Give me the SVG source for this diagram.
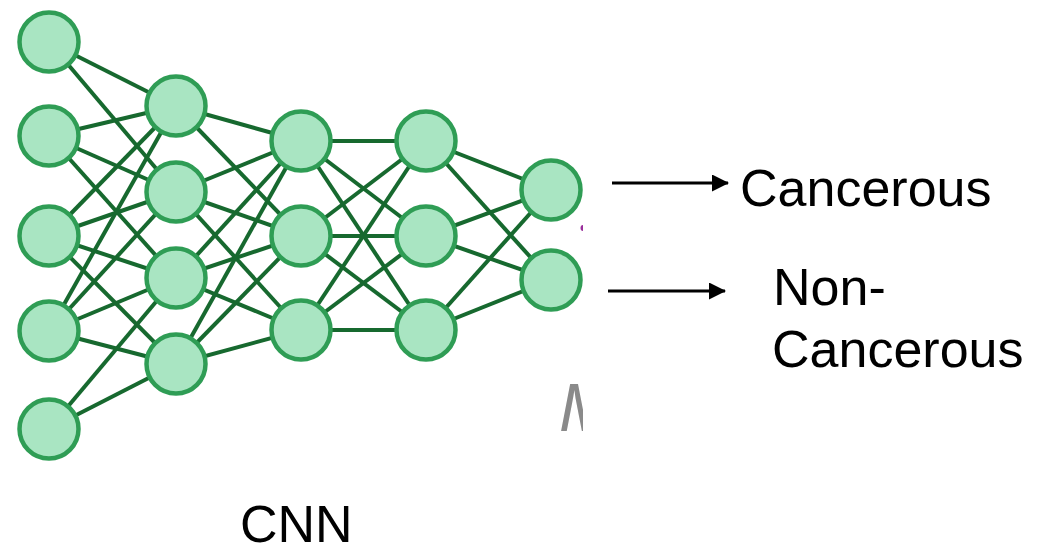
<svg xmlns="http://www.w3.org/2000/svg" width="1047" height="556" viewBox="0 0 1047 556">
<style>
.n{fill:#a9e5c2;stroke:#2f9d55;stroke-width:4.5}
.e{stroke:#17692f;stroke-width:4;fill:none}
.t{font-family:"Liberation Sans",Arial,sans-serif;font-size:52px;fill:#000}
.a{stroke:#000;stroke-width:3;fill:none}
</style>
<defs>
<marker id="ah" markerUnits="userSpaceOnUse" markerWidth="17" markerHeight="17" refX="16" refY="8.5" orient="auto">
<path d="M0,0 L17,8.5 L0,17 z" fill="#000"/>
</marker>
<clipPath id="pic"><rect x="0" y="0" width="583" height="470"/></clipPath>
</defs>
<rect width="1047" height="556" fill="#fff"/>
<g id="connectors" class="e">
<line x1="49" y1="42" x2="176" y2="106"/>
<line x1="49" y1="42" x2="176" y2="192"/>
<line x1="49" y1="136" x2="176" y2="106"/>
<line x1="49" y1="136" x2="176" y2="192"/>
<line x1="49" y1="136" x2="176" y2="278"/>
<line x1="49" y1="236" x2="176" y2="106"/>
<line x1="49" y1="236" x2="176" y2="192"/>
<line x1="49" y1="236" x2="176" y2="278"/>
<line x1="49" y1="236" x2="176" y2="364"/>
<line x1="49" y1="331" x2="176" y2="106"/>
<line x1="49" y1="331" x2="176" y2="192"/>
<line x1="49" y1="331" x2="176" y2="278"/>
<line x1="49" y1="331" x2="176" y2="364"/>
<line x1="49" y1="429" x2="176" y2="278"/>
<line x1="49" y1="429" x2="176" y2="364"/>
<line x1="176" y1="106" x2="301" y2="141"/>
<line x1="176" y1="106" x2="301" y2="236"/>
<line x1="176" y1="192" x2="301" y2="141"/>
<line x1="176" y1="192" x2="301" y2="236"/>
<line x1="176" y1="192" x2="301" y2="330"/>
<line x1="176" y1="278" x2="301" y2="141"/>
<line x1="176" y1="278" x2="301" y2="236"/>
<line x1="176" y1="278" x2="301" y2="330"/>
<line x1="176" y1="364" x2="301" y2="141"/>
<line x1="176" y1="364" x2="301" y2="236"/>
<line x1="176" y1="364" x2="301" y2="330"/>
<line x1="301" y1="141" x2="426" y2="141"/>
<line x1="301" y1="141" x2="426" y2="236"/>
<line x1="301" y1="141" x2="426" y2="330"/>
<line x1="301" y1="236" x2="426" y2="141"/>
<line x1="301" y1="236" x2="426" y2="236"/>
<line x1="301" y1="236" x2="426" y2="330"/>
<line x1="301" y1="330" x2="426" y2="141"/>
<line x1="301" y1="330" x2="426" y2="236"/>
<line x1="301" y1="330" x2="426" y2="330"/>
<line x1="426" y1="141" x2="551" y2="190"/>
<line x1="426" y1="141" x2="551" y2="280"/>
<line x1="426" y1="236" x2="551" y2="190"/>
<line x1="426" y1="236" x2="551" y2="280"/>
<line x1="426" y1="330" x2="551" y2="190"/>
<line x1="426" y1="330" x2="551" y2="280"/>
<line class="a" x1="612" y1="183" x2="728" y2="183" marker-end="url(#ah)"/>
<line class="a" x1="608" y1="291" x2="725" y2="291" marker-end="url(#ah)"/>
</g>
<g clip-path="url(#pic)">
<g id="in1"><circle class="n" cx="49" cy="42" r="29.5"/></g>
<g id="in2"><circle class="n" cx="49" cy="136" r="29.5"/></g>
<g id="in3"><circle class="n" cx="49" cy="236" r="29.5"/></g>
<g id="in4"><circle class="n" cx="49" cy="331" r="29.5"/></g>
<g id="in5"><circle class="n" cx="49" cy="429" r="29.5"/></g>
<g id="h1a"><circle class="n" cx="176" cy="106" r="29.5"/></g>
<g id="h1b"><circle class="n" cx="176" cy="192" r="29.5"/></g>
<g id="h1c"><circle class="n" cx="176" cy="278" r="29.5"/></g>
<g id="h1d"><circle class="n" cx="176" cy="364" r="29.5"/></g>
<g id="h2a"><circle class="n" cx="301" cy="141" r="29.5"/></g>
<g id="h2b"><circle class="n" cx="301" cy="236" r="29.5"/></g>
<g id="h2c"><circle class="n" cx="301" cy="330" r="29.5"/></g>
<g id="h3a"><circle class="n" cx="426" cy="141" r="29.5"/></g>
<g id="h3b"><circle class="n" cx="426" cy="236" r="29.5"/></g>
<g id="h3c"><circle class="n" cx="426" cy="330" r="29.5"/></g>
<g id="out1"><circle class="n" cx="551" cy="190" r="29.5"/></g>
<g id="out2"><circle class="n" cx="551" cy="280" r="29.5"/></g>
<ellipse cx="583" cy="228" rx="2.5" ry="3" fill="#9a2f9c"/>
<text x="559" y="431" font-family="Liberation Sans, Arial, sans-serif" font-size="68" font-style="italic" fill="#8a8a8a">M</text>
</g>
<g id="label-cancerous"><text class="t" x="740" y="206">Cancerous</text></g>
<g id="label-noncancerous"><text class="t" x="773" y="305">Non-</text><text class="t" x="772" y="367">Cancerous</text></g>
<g id="label-cnn"><text class="t" x="240" y="542" font-size="51">CNN</text></g>
</svg>
